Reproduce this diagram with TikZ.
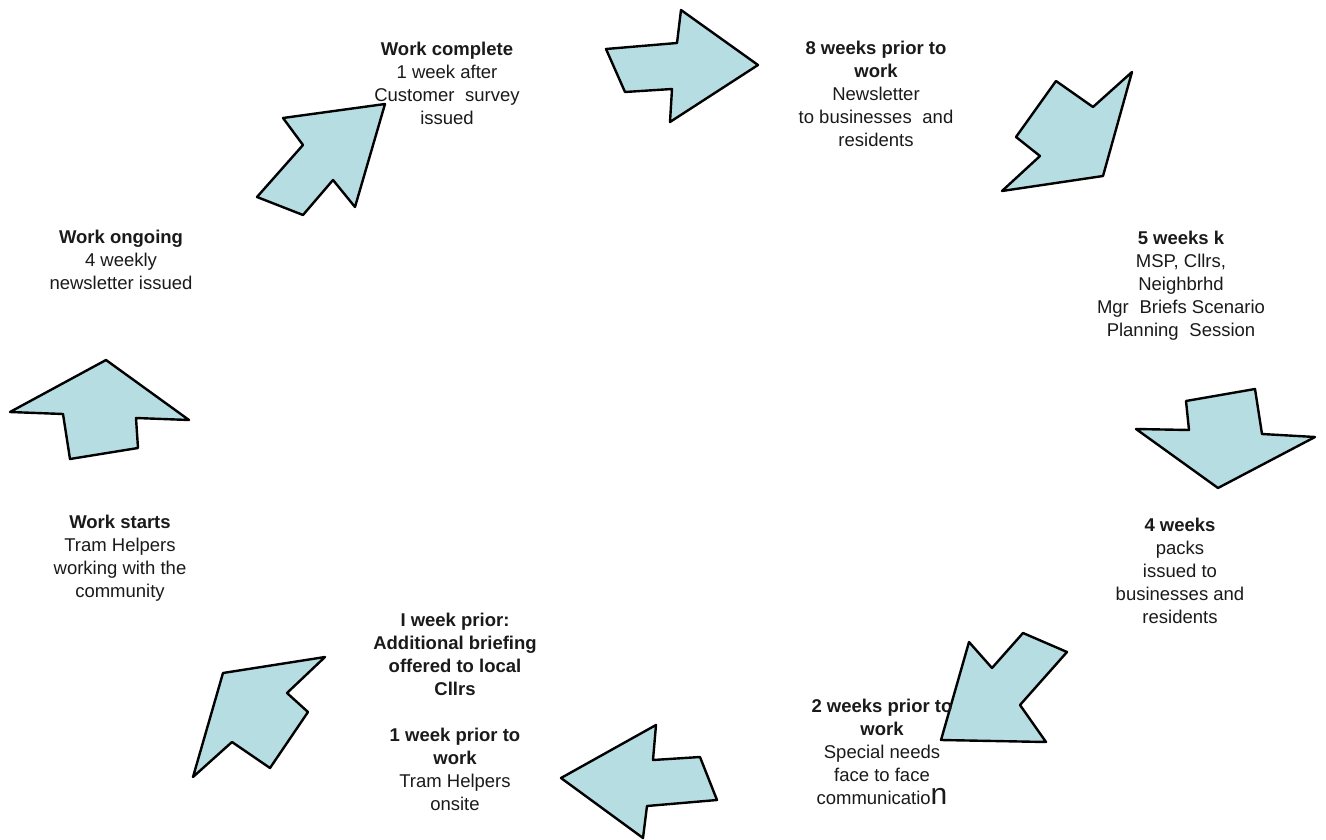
\documentclass[tikz,border=0pt]{standalone}
\usepackage{fontspec}
\setmainfont{Liberation Sans}
\definecolor{arrowfill}{RGB}{182,221,226}
\definecolor{txt}{RGB}{26,26,26}
\begin{document}
\begin{tikzpicture}[x=1pt,y=-1pt,
  blockarrow/.style={draw=black,fill=arrowfill,line width=2.4pt,line join=round},
  label/.style={align=center,inner sep=0pt,text=txt,font=\fontsize{18.5}{23}\selectfont}]
\useasboundingbox (0,0) rectangle (1326,840);
\fill[white] (0,0) rectangle (1326,840);
% arrows
\draw[blockarrow] (606,49) -- (677,43) -- (681,10) -- (758,65) -- (670,122) -- (672,89) -- (625,92) -- cycle;
\draw[blockarrow] (1056,81) -- (1093,107) -- (1132,72) -- (1103,176) -- (1002,191) -- (1040,156) -- (1016,137) -- cycle;
\draw[blockarrow] (1136,429) -- (1189,430) -- (1186,401) -- (1255,389) -- (1262,434) -- (1315,437) -- (1218,488) -- cycle;
\draw[blockarrow] (969,642) -- (992,668) -- (1023,633) -- (1067,652) -- (1020,705) -- (1046,742) -- (941,740) -- cycle;
\draw[blockarrow] (656,725) -- (653,760) -- (700,757) -- (717,800) -- (647,806) -- (643,838) -- (561,778) -- cycle;
\draw[blockarrow] (223,673) -- (325,657) -- (287,693) -- (308,712) -- (270,768) -- (232,742) -- (193,777) -- cycle;
\draw[blockarrow] (106,360) -- (189,420) -- (136,418) -- (138,448) -- (70,459) -- (63,414) -- (10,412) -- cycle;
\draw[blockarrow] (385,104) -- (355,207) -- (333,180) -- (303,215) -- (257,197) -- (303,145) -- (283,118) -- cycle;
% texts
\node[label] (complete) at (447,83) {\textbf{Work complete}\\1 week after\\Customer\hspace{0.3em} survey\\issued};
\node[label] (eight) at (876,94) {\textbf{8 weeks prior to}\\\textbf{work}\\Newsletter\\to businesses\hspace{0.3em} and\\residents};
\node[label] (five) at (1181,286) {\textbf{5 weeks k}\\MSP, Cllrs,\\Neighbrhd\\Mgr\hspace{0.3em} Briefs Scenario\\Planning\hspace{0.3em} Session};
\node[label] (four) at (1180,571) {\textbf{4 weeks}\\packs\\issued to\\businesses and\\residents};
\node[label] (two) at (882,752) {\textbf{2 weeks prior to}\\\textbf{work}\\Special needs\\face to face\\communicatio{\fontsize{30}{23}\selectfont n}};
\node[label] (one) at (455,712) {\textbf{I week prior:}\\\textbf{Additional briefing}\\\textbf{offered to local}\\\textbf{Cllrs}\\[23pt]\textbf{1 week prior to}\\\textbf{work}\\Tram Helpers\\onsite};
\node[label] (starts) at (120,558) {\textbf{Work starts}\\Tram Helpers\\working with the\\community};
\node[label] (ongoing) at (121,260) {\textbf{Work ongoing}\\4 weekly\\newsletter issued};
\end{tikzpicture}
\end{document}
